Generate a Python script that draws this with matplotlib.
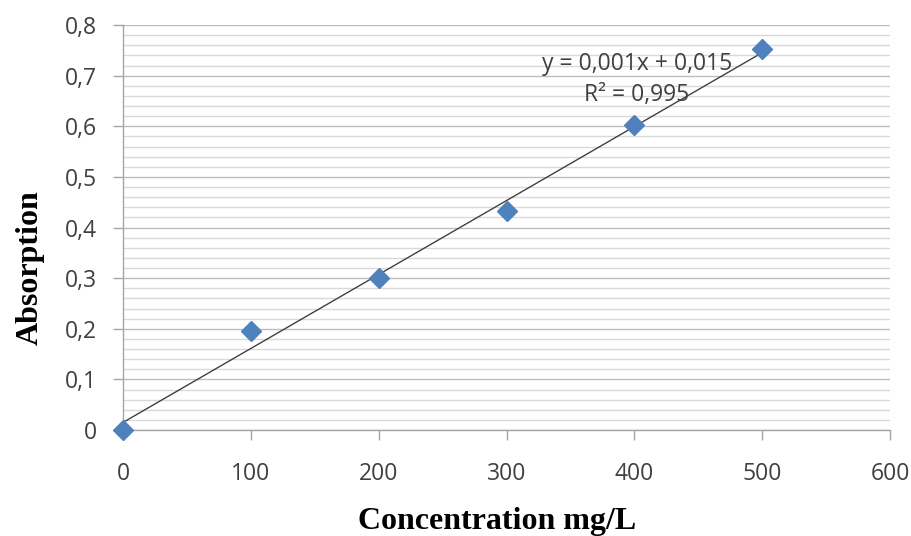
import numpy as np
import matplotlib
matplotlib.use("Agg")
import matplotlib.pyplot as plt
from matplotlib.ticker import MultipleLocator, FuncFormatter

concentration = [0, 100, 200, 300, 400, 500]
absorption = [0.0, 0.195, 0.300, 0.432, 0.602, 0.752]
x_ticks = [0, 100, 200, 300, 400, 500, 600]
y_ticks = [0, 0.1, 0.2, 0.3, 0.4, 0.5, 0.6, 0.7, 0.8]
eq_text = "y = 0,001x + 0,015"
r2_text = "R² = 0,995"

fig = plt.figure(figsize=(9.11, 5.36), dpi=100)
ax = fig.add_axes([123/911, 106/536, (890-123)/911, (430-25)/536])

ax.set_xlim(0, 600)
ax.set_ylim(0, 0.8)
ax.set_xticks(x_ticks)
ax.set_yticks(y_ticks)
ax.yaxis.set_minor_locator(MultipleLocator(0.02))

def comma(v, pos):
    return ("%g" % round(v, 3)).replace(".", ",")
ax.yaxis.set_major_formatter(FuncFormatter(comma))

ax.grid(which="major", axis="y", color="#bdbdbd", lw=1.0)
ax.grid(which="minor", axis="y", color="#d9d9d9", lw=1.0)
ax.set_axisbelow(True)

for s in ["top", "right"]:
    ax.spines[s].set_visible(False)
for s in ["left", "bottom"]:
    ax.spines[s].set_color("#a6a6a6")
    ax.spines[s].set_linewidth(1.0)

ax.tick_params(axis="both", which="major", direction="out", length=7, color="#a6a6a6",
               labelsize=16.5, labelcolor="#404040", width=1)
ax.tick_params(axis="y", which="minor", length=0)
ax.tick_params(axis="x", pad=16)
ax.tick_params(axis="y", pad=12)
for lab in ax.get_xticklabels() + ax.get_yticklabels():
    lab.set_family("Open Sans")

# trendline
slope, intercept = np.polyfit(concentration, absorption, 1)
xs = np.array([concentration[0], concentration[-1]])
ax.plot(xs, slope * xs + intercept, color="#404040", lw=1.0, zorder=3)

ax.plot(concentration, absorption, linestyle="none", marker="D", ms=10,
        color="#4f81bd", mec="#4f81bd", zorder=4, clip_on=False)

ax.text(402, 0.722, eq_text, ha="center", va="center", fontsize=16.5,
        color="#404040", family="Open Sans")
ax.text(402, 0.661, r2_text, ha="center", va="center", fontsize=16.5,
        color="#404040", family="Open Sans")

fig.text(497/911, 1 - 521/536, "Concentration mg/L", family="Liberation Serif",
         fontweight="bold", fontsize=23, ha="center", va="center")
fig.text(30/911, 1 - 268/536, "Absorption", family="Liberation Serif",
         fontweight="bold", fontsize=23, ha="center", va="center", rotation=90)

fig.savefig("out.png", dpi=100)
